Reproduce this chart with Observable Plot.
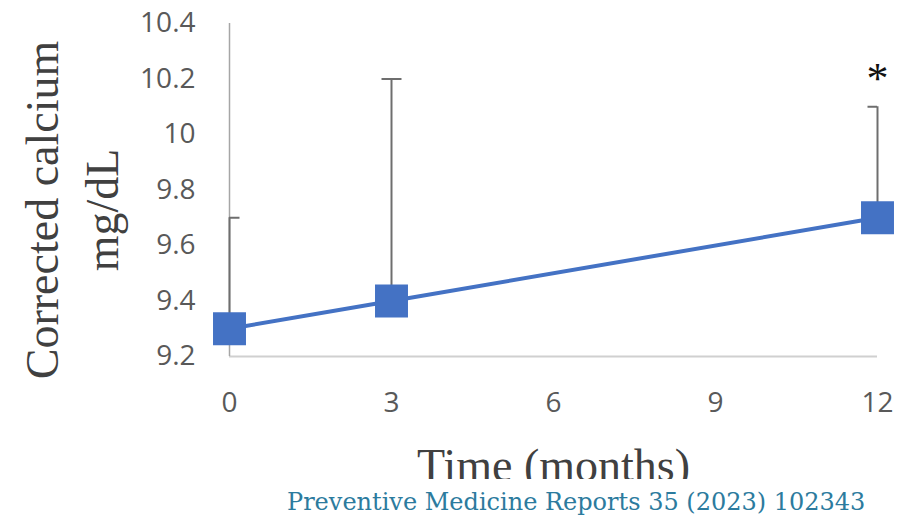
<!DOCTYPE html>
<html>
<head>
<meta charset="utf-8">
<script src="https://cdn.jsdelivr.net/npm/d3@7"></script>
<script src="https://cdn.jsdelivr.net/npm/@observablehq/plot@0.6"></script>
<style>
  html, body { margin: 0; padding: 0; background: #fff; }
  #chart svg { display: block; overflow: hidden; }
  #caption { font-family: "DejaVu Serif", "Liberation Serif", serif; font-size: 24px; color: #2c7b9e; padding-left: 287px; padding-top: 9px; line-height: 28px; white-space: nowrap; }
</style>
</head>
<body>
<div id="chart"></div>
<div id="caption"></div>
<script>
const months = [0, 3, 12];
const meanCa = [9.3, 9.4, 9.7];
const upperCa = [9.7, 10.2, 10.1];
const sigMarks = ["", "", "*"];
const xTicks = [0, 3, 6, 9, 12];
const yTicks = [9.2, 9.4, 9.6, 9.8, 10, 10.2, 10.4];
const yLabel = "Corrected calcium\nmg/dL";
const xLabel = "Time (months)";
const captionText = "Preventive Medicine Reports 35 (2023) 102343";

const data = months.map((m, i) => ({month: m, mean: meanCa[i], upper: upperCa[i], sig: sigMarks[i]}));

const capSymbol = {
  draw(ctx, size) {
    const w = Math.sqrt(size / Math.PI);
    ctx.moveTo(-w, 0);
    ctx.lineTo(w, 0);
  }
};

const serif = "'Liberation Serif', 'Times New Roman', serif";
const sans = "'Open Sans', sans-serif";

const chart = Plot.plot({
  width: 910,
  height: 479,
  marginTop: 23,
  marginBottom: 123,
  marginLeft: 229,
  marginRight: 33,
  style: {fontFamily: sans, background: "#fff"},
  x: {domain: [0, 12]},
  y: {domain: [9.2, 10.4]},
  marks: [
    Plot.ruleY([9.2], {stroke: "#d0d0d0", strokeWidth: 2}),
    Plot.ruleX([0], {stroke: "#a6a6a6", strokeWidth: 1.5}),
    Plot.ruleX(data, {x: "month", y1: "mean", y2: "upper", stroke: "#6e6e6e", strokeWidth: 2}),
    Plot.dot(data, {x: "month", y: "upper", symbol: capSymbol, r: 10, stroke: "#6e6e6e", strokeWidth: 2, fill: "none", clip: "frame"}),
    Plot.line(data, {x: "month", y: "mean", stroke: "#4472c4", strokeWidth: 4}),
    Plot.dot(data, {x: "month", y: "mean", symbol: "square", r: 18.6, fill: "#4472c4", stroke: "none"}),
    Plot.text(data, {x: "month", y: "upper", text: "sig", dy: -28, fontSize: 44, fontFamily: serif, fill: "#111", lineAnchor: "middle"}),
    Plot.axisX({ticks: xTicks, tickSize: 0, tickPadding: 36, fontSize: 28, color: "#595959", label: null, tickFormat: d => `${d}`}),
    Plot.axisY({ticks: yTicks, tickSize: 0, tickPadding: 34, fontSize: 28, color: "#595959", label: null, tickFormat: d => `${d}`}),
    Plot.text([yLabel], {frameAnchor: "left", dx: -161, dy: 20, rotate: -90, fontSize: 46, lineHeight: 1.3, fontFamily: serif, fill: "#404040", textAnchor: "middle", lineAnchor: "middle"}),
    Plot.text([xLabel], {frameAnchor: "bottom", dy: 124, fontSize: 46, fontFamily: serif, fill: "#404040", textAnchor: "middle", lineAnchor: "bottom"})
  ]
});
document.getElementById("chart").appendChild(chart);
document.getElementById("caption").textContent = captionText;
</script>
</body>
</html>
